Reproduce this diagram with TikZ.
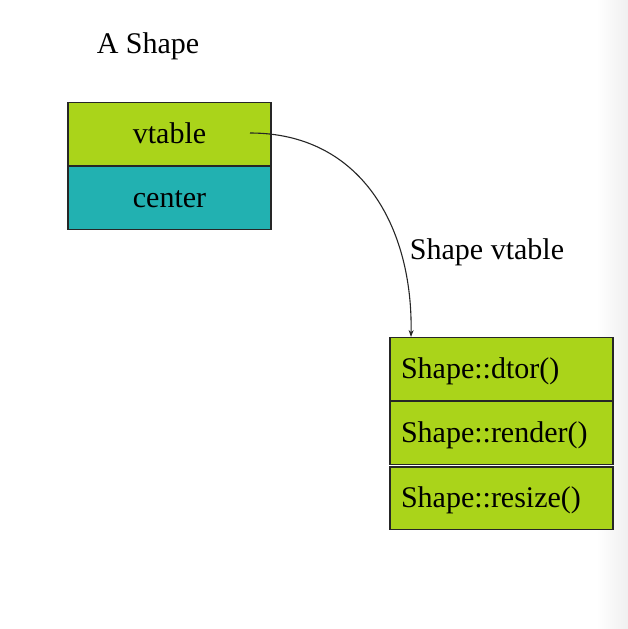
\documentclass[tikz,border=0pt]{standalone}
\usepackage{fontspec}
\setmainfont{Liberation Serif}
\usetikzlibrary{positioning,arrows.meta}

\definecolor{verde}{RGB}{170,212,26}
\definecolor{turchese}{RGB}{34,177,177}

\tikzset{
    cella/.style={draw=black!85, line width=1.5pt, minimum height=63.5pt, inner sep=0pt, outer sep=0pt,
        text height=23.5pt, text depth=4.5pt},
    slot/.style={cella, fill=verde, minimum width=223pt, text width=201pt, inner xsep=11pt, align=left},
    etichetta/.style={inner sep=0pt}
}

\begin{document}
\begin{tikzpicture}[x=1pt,y=-1pt,font=\fontsize{30}{36}\selectfont]

\useasboundingbox (0,0) rectangle (628,629);

% Sfumatura grigia sul bordo destro
\shade[left color=white, right color=black!6] (596,0) rectangle (628,629);

% Oggetto Shape (vptr + center)
\node[etichetta] (titolo) at (148,46) {A Shape};
\node[cella, fill=verde, minimum width=203pt] (vptr) at (169.5,134) {vtable};
\node[cella, fill=turchese, minimum width=203pt, below=0pt of vptr] (centro) {center};

% Tabella virtuale di Shape
\node[etichetta] (nometab) at (487,252) {Shape vtable};
\node[slot] (dtor) at (501.5,369) {Shape::dtor()};
\node[slot, below=0pt of dtor] (render) {Shape::render()};
\node[slot, below=2.5pt of render, minimum height=62.5pt] (resize) {Shape::resize()};

% Puntatore dal vptr alla prima voce della tabella
\coordinate (origine) at (250,133);
\coordinate (arrivo) at (411,337);
\draw[-{Stealth[length=7pt,width=5pt]}, line width=1.1pt, draw=black!85] (origine) .. controls (362,133) and (413,228) .. (arrivo);

\end{tikzpicture}
\end{document}
